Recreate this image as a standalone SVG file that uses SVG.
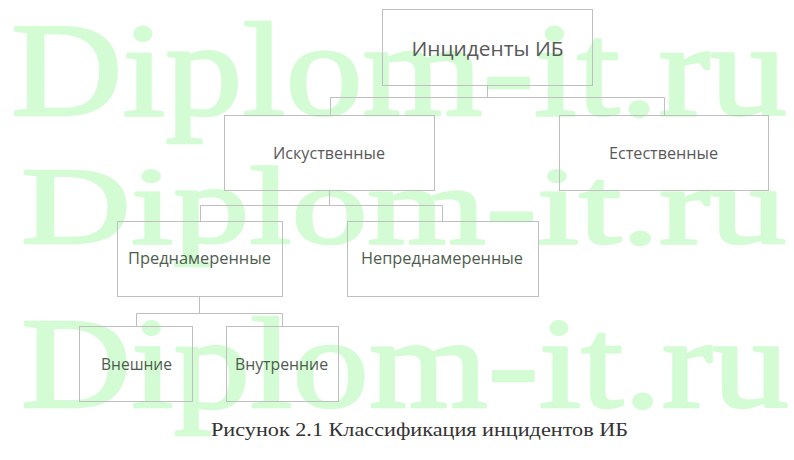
<svg xmlns="http://www.w3.org/2000/svg" width="794" height="460" viewBox="0 0 794 460">
<style>
.wm{font-family:"Liberation Serif","Times New Roman",serif;fill:#d4fcd4;stroke:#d4fcd4;stroke-width:2.5;stroke-linejoin:round;}
.box{fill:none;stroke:#bfbfbf;stroke-width:1;}
.lbl{font-family:"Open Sans","Noto Sans","DejaVu Sans",sans-serif;text-anchor:middle;dominant-baseline:central;}
.g1{fill:#595959;}
.g2{fill:#4e5c4e;}
.conn{fill:none;stroke:#bfbfbf;stroke-width:1;}
.cap{font-family:"Liberation Serif","Times New Roman",serif;font-size:18px;fill:#333333;}
</style>
<rect width="794" height="460" fill="#ffffff"/>
<g id="watermark">
<text class="wm" x="11" y="115" font-size="134" textLength="776" lengthAdjust="spacingAndGlyphs">Diplom-it.ru</text>
<text class="wm" x="21" y="243" font-size="110" textLength="765" lengthAdjust="spacingAndGlyphs">Diplom-it.ru</text>
<text class="wm" x="21" y="407" font-size="130" textLength="768" lengthAdjust="spacingAndGlyphs">Diplom-it.ru</text>
</g>
<g id="connectors">
<path class="conn" d="M487.5 85 V97.5 H330.5 V115 M330.5 97.5 H664.5 V115"/>
<path class="conn" d="M329.5 190 V205.5 H200.5 V221 M329.5 205.5 H442.5 V221"/>
<path class="conn" d="M199.5 296 V313.5 H136.5 V326 M199.5 313.5 H282.5 V326"/>
</g>
<g id="n-root">
<rect class="box" x="382.5" y="9.5" width="210" height="76"/>
<text class="lbl g1" x="487.5" y="48" font-size="20" textLength="152" lengthAdjust="spacingAndGlyphs">Инциденты ИБ</text>
</g>
<g id="n-art">
<rect class="box" x="224.5" y="115.5" width="210" height="75"/>
<text class="lbl g1" x="329" y="153" font-size="16" textLength="112" lengthAdjust="spacingAndGlyphs">Искуственные</text>
</g>
<g id="n-nat">
<rect class="box" x="559.5" y="115.5" width="209" height="75"/>
<text class="lbl g1" x="663.5" y="153" font-size="16" textLength="109" lengthAdjust="spacingAndGlyphs">Естественные</text>
</g>
<g id="n-int">
<rect class="box" x="117.5" y="221.5" width="165" height="75"/>
<text class="lbl g2" x="199.5" y="258" font-size="16" textLength="143" lengthAdjust="spacingAndGlyphs">Преднамеренные</text>
</g>
<g id="n-unint">
<rect class="box" x="347.5" y="221.5" width="191" height="75"/>
<text class="lbl g2" x="442" y="258" font-size="16" textLength="162" lengthAdjust="spacingAndGlyphs">Непреднамеренные</text>
</g>
<g id="n-ext">
<rect class="box" x="79.5" y="326.5" width="113" height="75"/>
<text class="lbl g2" x="136.5" y="363.5" font-size="16" textLength="71" lengthAdjust="spacingAndGlyphs">Внешние</text>
</g>
<g id="n-inn">
<rect class="box" x="226.5" y="326.5" width="112" height="75"/>
<text class="lbl g2" x="281.5" y="363.5" font-size="16" textLength="93" lengthAdjust="spacingAndGlyphs">Внутренние</text>
</g>
<text class="cap" x="211" y="436" textLength="417" lengthAdjust="spacingAndGlyphs">Рисунок 2.1 Классификация инцидентов ИБ</text>
</svg>
